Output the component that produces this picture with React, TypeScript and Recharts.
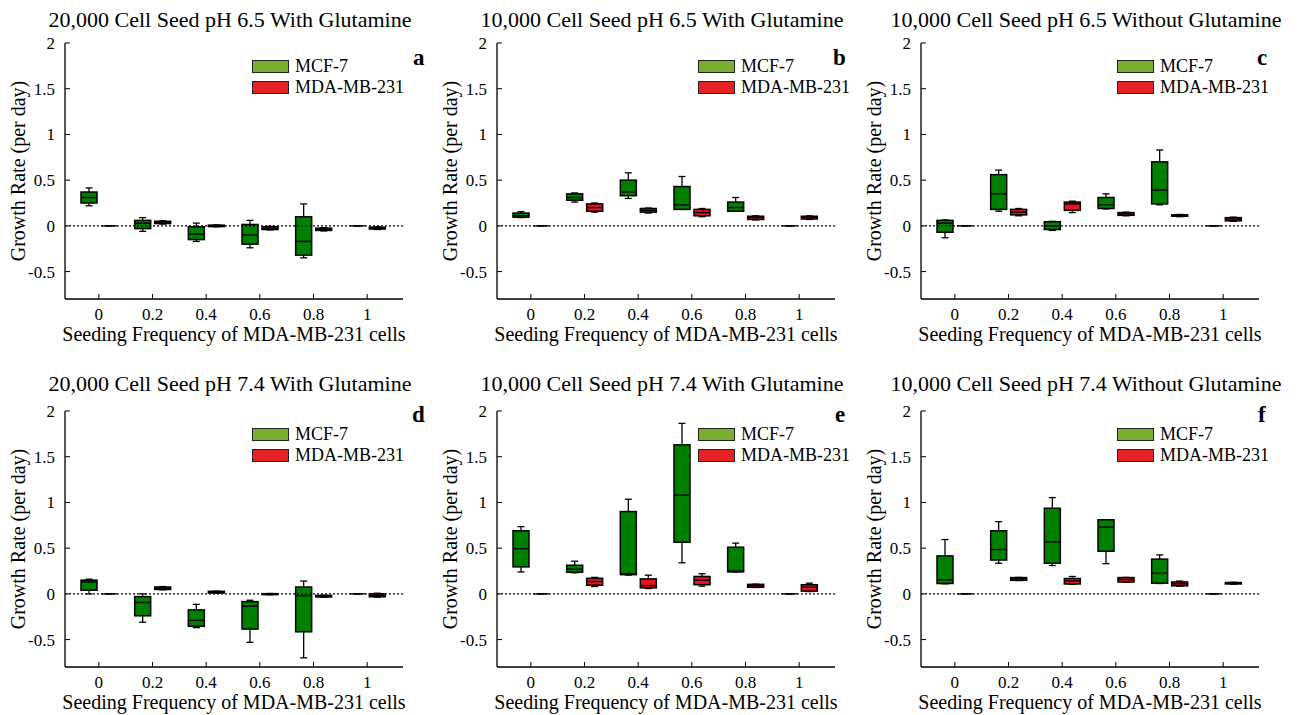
import React from "react";
import { Bar, ComposedChart, Legend, ReferenceLine, XAxis, YAxis } from "recharts";

const FONT = "'Liberation Serif', 'Times New Roman', serif";
const BOX_GREEN = "#008000";
const BOX_RED = "#E8141C";
const LEGEND_GREEN = "#77B02F";
const LEGEND_RED = "#E52226";

const frequencies = ["0", "0.2", "0.4", "0.6", "0.8", "1"];
const yTicks = [-0.5, 0, 0.5, 1, 1.5, 2];
const seriesNames = ["MCF-7", "MDA-MB-231"];
const titles = [
  "20,000 Cell Seed pH 6.5 With Glutamine",
  "10,000 Cell Seed pH 6.5 With Glutamine",
  "10,000 Cell Seed pH 6.5 Without Glutamine",
  "20,000 Cell Seed pH 7.4 With Glutamine",
  "10,000 Cell Seed pH 7.4 With Glutamine",
  "10,000 Cell Seed pH 7.4 Without Glutamine",
];
const letters = ["a", "b", "c", "d", "e", "f"];

// each entry: [min, q1, median, q3, max]
const aMcf = [
  [0.22, 0.25, 0.31, 0.37, 0.415],
  [-0.06, -0.03, 0.03, 0.06, 0.09],
  [-0.17, -0.15, -0.09, -0.01, 0.03],
  [-0.24, -0.2, -0.1, 0.015, 0.06],
  [-0.35, -0.32, -0.17, 0.1, 0.24],
  [0, 0, 0, 0, 0],
];
const aMda = [
  [0, 0, 0, 0, 0],
  [0.02, 0.025, 0.04, 0.05, 0.055],
  [-0.01, -0.008, 0, 0.008, 0.01],
  [-0.045, -0.04, -0.025, -0.01, -0.005],
  [-0.055, -0.05, -0.04, -0.025, -0.02],
  [-0.04, -0.035, -0.025, -0.015, -0.01],
];
const bMcf = [
  [0.09, 0.095, 0.11, 0.14, 0.155],
  [0.26, 0.28, 0.31, 0.35, 0.36],
  [0.3, 0.33, 0.37, 0.5, 0.58],
  [0.18, 0.18, 0.23, 0.43, 0.54],
  [0.16, 0.16, 0.2, 0.26, 0.31],
  [0, 0, 0, 0, 0],
];
const bMda = [
  [0, 0, 0, 0, 0],
  [0.15, 0.16, 0.2, 0.24, 0.25],
  [0.14, 0.15, 0.17, 0.19, 0.195],
  [0.1, 0.11, 0.145, 0.18, 0.19],
  [0.065, 0.07, 0.09, 0.105, 0.11],
  [0.07, 0.075, 0.095, 0.105, 0.11],
];
const cMcf = [
  [-0.13, -0.07, 0.03, 0.06, 0.065],
  [0.16, 0.18, 0.35, 0.56, 0.61],
  [-0.05, -0.04, 0, 0.045, 0.05],
  [0.185, 0.19, 0.23, 0.31, 0.35],
  [0.23, 0.24, 0.39, 0.7, 0.83],
  [0, 0, 0, 0, 0],
];
const cMda = [
  [0, 0, 0, 0, 0],
  [0.11, 0.12, 0.15, 0.18, 0.19],
  [0.145, 0.17, 0.24, 0.26, 0.27],
  [0.11, 0.115, 0.13, 0.145, 0.15],
  [0.1, 0.105, 0.115, 0.12, 0.125],
  [0.05, 0.055, 0.075, 0.09, 0.095],
];
const dMcf = [
  [0, 0.04, 0.13, 0.15, 0.16],
  [-0.31, -0.24, -0.095, -0.03, 0],
  [-0.37, -0.355, -0.29, -0.175, -0.115],
  [-0.53, -0.385, -0.135, -0.085, -0.07],
  [-0.7, -0.415, -0.02, 0.075, 0.14],
  [0, 0, 0, 0, 0],
];
const dMda = [
  [0, 0, 0, 0, 0],
  [0.044, 0.048, 0.062, 0.075, 0.08],
  [0.007, 0.01, 0.02, 0.028, 0.03],
  [-0.01, -0.008, -0.003, 0.002, 0.004],
  [-0.036, -0.034, -0.025, -0.017, -0.015],
  [-0.036, -0.032, -0.015, 0, 0.007],
];
const eMcf = [
  [0.24, 0.295, 0.495, 0.69, 0.735],
  [0.23, 0.237, 0.27, 0.313, 0.357],
  [0.205, 0.21, 0.22, 0.9, 1.035],
  [0.34, 0.565, 1.08, 1.63, 1.865],
  [0.24, 0.24, 0.25, 0.51, 0.555],
  [0, 0, 0, 0, 0],
];
const eMda = [
  [0, 0, 0, 0, 0],
  [0.08, 0.095, 0.135, 0.17, 0.18],
  [0.058, 0.066, 0.09, 0.164, 0.204],
  [0.084, 0.1, 0.15, 0.19, 0.22],
  [0.07, 0.072, 0.09, 0.104, 0.106],
  [0.025, 0.03, 0.073, 0.1, 0.117],
];
const fMcf = [
  [0.11, 0.113, 0.153, 0.415, 0.594],
  [0.335, 0.37, 0.485, 0.69, 0.79],
  [0.31, 0.335, 0.568, 0.936, 1.053],
  [0.33, 0.466, 0.73, 0.81, 0.81],
  [0.113, 0.117, 0.226, 0.38, 0.426],
  [0, 0, 0, 0, 0],
];
const fMda = [
  [0, 0, 0, 0, 0],
  [0.146, 0.148, 0.165, 0.178, 0.18],
  [0.106, 0.108, 0.142, 0.168, 0.19],
  [0.128, 0.13, 0.157, 0.178, 0.18],
  [0.084, 0.088, 0.11, 0.13, 0.14],
  [0.106, 0.108, 0.115, 0.124, 0.127],
];

const mcfPanels = [aMcf, bMcf, cMcf, dMcf, eMcf, fMcf];
const mdaPanels = [aMda, bMda, cMda, dMda, eMda, fMda];

// panel placement: [left, top, legendLeft, letterLeft, titleTop, letterTop]
const layout = [
  [0, 0, 252, 413, 8, 45],
  [432, 0, 266, 401, 8, 45],
  [856, 0, 261, 401, 8, 45],
  [0, 368, 252, 412, 4, 34],
  [432, 368, 266, 403, 4, 34],
  [856, 368, 261, 402, 4, 34],
];

// draws whiskers + box + median from the bar's [min, max] rect
const BoxShape = (props: any) => {
  const { x, y, width, height, payload, statsKey, fill } = props;
  const [lo, q1, med, q3, hi] = payload[statsKey] as number[];
  const span = hi - lo;
  const py = (v: number) => (span === 0 ? y : y + ((hi - v) / span) * height);
  const cx = x + width / 2;
  const cap = 3.5;
  const s = { stroke: "#000", strokeWidth: 1.3 };
  return (
    <g>
      <line x1={cx} x2={cx} y1={py(hi)} y2={py(q3)} {...s} />
      <line x1={cx} x2={cx} y1={py(q1)} y2={py(lo)} {...s} />
      <line x1={cx - cap} x2={cx + cap} y1={py(hi)} y2={py(hi)} {...s} />
      <line x1={cx - cap} x2={cx + cap} y1={py(lo)} y2={py(lo)} {...s} />
      <rect x={x} y={py(q3)} width={width} height={py(q1) - py(q3)} fill={fill} stroke="#000" strokeWidth={1.5} />
      <line x1={x} x2={x + width} y1={py(med)} y2={py(med)} stroke="#000" strokeWidth={1.4} />
    </g>
  );
};

const legendColors = [LEGEND_GREEN, LEGEND_RED];

const LegendBox = ({ payload }: any) => (
  <div style={{ fontFamily: FONT, fontSize: 18, color: "#000" }}>
    {(payload || []).map((p: any, i: number) => (
      <div key={i} style={{ display: "flex", alignItems: "center", height: 21 }}>
        <span
          style={{
            display: "inline-block",
            width: 37,
            height: 13,
            background: legendColors[i],
            border: "1.3px solid #222",
            boxSizing: "border-box",
            marginRight: 6,
          }}
        />
        <span>{p.value}</span>
      </div>
    ))}
  </div>
);

const tickStyle = { fill: "#000", fontSize: 17, fontFamily: FONT };
const labelStyle = { fill: "#000", fontSize: 20, fontFamily: FONT };

const Panel = ({ idx }: { idx: number }) => {
  const mcf = mcfPanels[idx];
  const mda = mdaPanels[idx];
  const [left, top, legendLeft, letterLeft, titleTop, letterTop] = layout[idx];
  const rows = frequencies.map((f, i) => ({
    freq: f,
    mcf: [mcf[i][0], mcf[i][4]],
    mda: [mda[i][0], mda[i][4]],
    mcfStats: mcf[i],
    mdaStats: mda[i],
  }));
  return (
    <div style={{ position: "absolute", left, top, width: 430, height: 355 }}>
      <ComposedChart
        width={430}
        height={355}
        data={rows}
        margin={{ top: 43, right: 27, bottom: 6, left: 0 }}
        barSize={16}
        barGap={4}
      >
        <XAxis
          dataKey="freq"
          height={50}
          interval={0}
          padding={{ left: 7, right: 9 }}
          axisLine={{ stroke: "#000", strokeWidth: 1.3 }}
          tickLine={{ stroke: "#000", strokeWidth: 1 }}
          tickSize={-5}
          tickMargin={14}
          tick={tickStyle}
          label={{ value: "Seeding Frequency of MDA-MB-231 cells", position: "insideBottom", offset: 8, style: labelStyle }}
        />
        <YAxis
          type="number"
          domain={[-0.8, 2]}
          ticks={yTicks}
          allowDataOverflow
          width={65}
          axisLine={{ stroke: "#000", strokeWidth: 1.3 }}
          tickLine={{ stroke: "#000", strokeWidth: 1 }}
          tickSize={-5}
          tickMargin={15}
          tick={tickStyle}
          label={{
            value: "Growth Rate (per day)",
            angle: -90,
            position: "insideLeft",
            offset: 18,
            style: { ...labelStyle, textAnchor: "middle" },
          }}
        />
        <Bar
          dataKey="mcf"
          name={seriesNames[0]}
          fill={BOX_GREEN}
          isAnimationActive={false}
          shape={(p: any) => <BoxShape {...p} statsKey="mcfStats" />}
        />
        <Bar
          dataKey="mda"
          name={seriesNames[1]}
          fill={BOX_RED}
          isAnimationActive={false}
          shape={(p: any) => <BoxShape {...p} statsKey="mdaStats" />}
        />
        <ReferenceLine y={0} stroke="#000" strokeWidth={1.2} strokeDasharray="2 2" />
        <Legend
          layout="vertical"
          verticalAlign="middle"
          align="center"
          content={<LegendBox />}
          wrapperStyle={{ top: 56, left: legendLeft, width: "auto" }}
        />
      </ComposedChart>
      <div
        style={{
          position: "absolute",
          left: 0,
          top: titleTop,
          width: 460,
          textAlign: "center",
          fontFamily: FONT,
          fontSize: 22,
          lineHeight: "24px",
          whiteSpace: "nowrap",
          pointerEvents: "none",
        }}
      >
        {titles[idx]}
      </div>
      <div
        style={{
          position: "absolute",
          left: letterLeft,
          top: letterTop,
          fontFamily: FONT,
          fontSize: 23,
          fontWeight: "bold",
          lineHeight: "26px",
          pointerEvents: "none",
        }}
      >
        {letters[idx]}
      </div>
    </div>
  );
};

export default function App() {
  return (
    <div style={{ position: "absolute", left: 0, top: 0, width: 1309, height: 715, background: "#fff" }}>
      {[0, 1, 2, 3, 4, 5].map((i) => (
        <Panel key={i} idx={i} />
      ))}
    </div>
  );
}
